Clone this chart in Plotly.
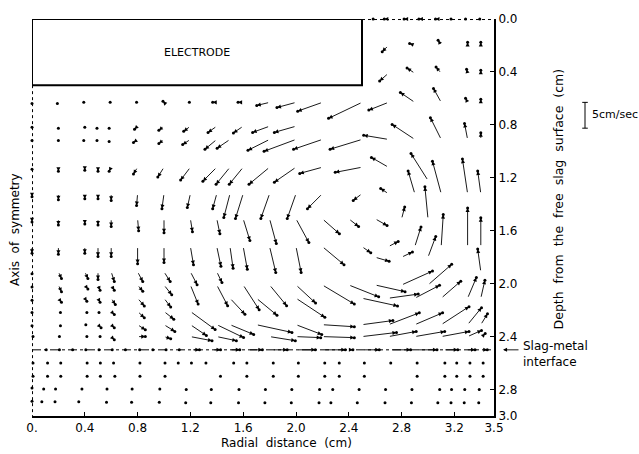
import plotly.graph_objects as go

# ---------------- data (velocities) ----------------
# depth of each row of grid points (cm), radial positions (cm),
# radial velocity U and axial (downward) velocity W (cm/s)
ROW_Z = [0.0, 0.2, 0.41, 0.63, 0.81, 0.91, 1.12, 1.22, 1.32, 1.51, 1.72, 1.80,
         1.91, 2.01, 2.11, 2.21, 2.31, 2.40, 2.50, 2.60, 2.70, 2.80, 2.90]

ROW_R = [
    [2.6, 2.7, 2.85, 2.97, 3.08, 3.19, 3.3, 3.4],
    [2.7, 2.9, 3.1, 3.3, 3.4],
    [2.7, 2.9, 3.1, 3.3, 3.4],
    [0, 0.2, 0.4, 0.6, 0.8, 1.0, 1.2, 1.4, 1.6, 1.8, 2.0, 2.2, 2.5, 2.7, 2.9, 3.1, 3.3, 3.4],
    [0, 0.2, 0.4, 0.5, 0.6, 0.8, 1.0, 1.2, 1.4, 1.6, 1.8, 2.0],
    [0, 0.2, 0.4, 0.5, 0.6, 0.8, 1.0, 1.2, 1.4, 1.5, 1.8, 2.0, 2.2, 2.5, 2.7, 2.9, 3.1, 3.3, 3.4],
    [0, 0.2, 0.4, 0.5, 0.6, 0.8, 1.0, 1.2, 1.4, 1.5, 1.6, 1.8, 2.0, 2.2, 2.5, 2.7],
    [3.0],
    [0, 0.2, 0.4, 0.5, 0.6, 0.8, 1.0, 1.2, 1.4, 1.5, 1.6, 1.8, 2.0, 2.2, 2.5, 2.7, 2.9, 3.1, 3.3, 3.4],
    [0, 0.2, 0.4, 0.5, 0.6, 0.8, 1.0, 1.2, 1.4, 1.6, 1.8, 2.0, 2.2, 2.4, 2.6, 2.8, 3.0],
    [0, 0.2, 0.4, 0.5, 0.6, 0.8, 1.0, 1.2, 1.4, 1.5, 1.6, 1.8, 2.0, 2.2, 2.5, 2.7, 2.9, 3.1, 3.3, 3.4],
    [2.6, 2.8, 3.0],
    [0, 0.2, 0.4, 0.5, 0.6, 0.8, 1.0, 1.2, 1.4, 3.4],
    [0, 0.2, 0.4, 0.5, 0.6, 0.8, 1.0, 1.2, 1.4, 1.6, 1.8, 2.0, 2.2, 2.4, 2.6, 2.8, 3.0],
    [0, 0.2, 0.4, 0.5, 0.6, 0.8, 1.0, 1.5, 1.7, 2.0, 2.5, 2.7, 2.9, 3.1, 3.3, 3.4],
    [0, 0.2, 0.4, 0.5, 0.6, 0.8, 1.0, 1.2],
    [0, 0.2, 0.4, 0.5, 0.6, 0.8, 1.0, 1.2, 1.4, 1.5, 1.7, 2.0, 2.2, 2.5, 2.7, 2.9, 3.1, 3.3, 3.4],
    [0, 0.2, 0.4, 0.5, 0.6, 0.8, 1.0, 1.2, 1.4, 1.8, 2.0, 2.2, 2.5, 2.7, 2.9, 3.1, 3.3, 3.41],
    [0.1, 0.2, 0.3, 0.4, 0.5, 0.6, 0.7, 0.8, 0.9, 1.0, 1.1, 1.21, 1.37, 1.5, 1.64, 1.82,
     2.01, 2.21, 2.4, 2.51, 2.72, 2.92, 3.12, 3.29, 3.41],
    [0, 0.11, 0.21, 0.41, 0.51, 0.61, 0.81, 1.0, 1.1, 1.2, 1.31, 1.52, 1.62, 1.82, 2.01,
     2.21, 2.32, 2.51, 2.71, 2.91, 3.12, 3.21, 3.31, 3.41],
    [0, 0.11, 0.21, 0.41, 0.51, 0.62, 0.81, 1.0, 1.42, 1.62, 1.82, 2.01, 2.21, 2.32, 2.51,
     2.91, 3.12, 3.21, 3.31, 3.41],
    [0, 0.1, 0.19, 0.39, 0.58, 0.77, 0.98, 1.18, 1.37, 1.58, 1.78, 1.98, 2.19, 2.29, 2.49,
     2.69, 2.89, 3.1, 3.19, 3.29, 3.4],
    [0, 0.09, 0.19, 0.37, 0.58, 0.77, 0.98, 1.18, 1.37, 1.58, 1.78, 1.98, 2.19, 2.28, 2.48,
     2.69, 2.89, 3.09, 3.19, 3.29, 3.4],
]

ROW_U = [
    [-0.4, -0.8, -0.8, -1.0, -0.6, -0.4, -0.4, -0.2],
    [-1.2, -1.0, -0.6, 0.0, 0.0],
    [-1.7, -1.5, -1.0, -0.2, 0.0],
    [0, -0.2, -0.2, -0.2, -0.2, -0.2, -0.2, -0.8, -1.0, -2.5, -3.7, -4.8, -6.5, -3.8, -2.8, -1.5, -0.4, 0],
    [0, 0, 0, -0.2, -0.4, -0.6, -1.0, -1.3, -1.7, -1.9, -3.3, -4.2],
    [0, 0, -0.2, -0.2, -0.4, -0.8, -1.0, -1.5, -2.3, -2.5, -4.2, -6.2, -5.6, -6.2, -4.8, -4.4, -2.1, -0.6, 0],
    [0, 0, 0, 0, -0.4, -0.8, -1.2, -1.9, -2.7, -2.7, -2.7, -4.0, -4.2, -4.4, -5.2, -3.3],
    [-3.3],
    [0, 0, 0, 0, 0, -0.2, -0.4, -0.6, -0.8, -1.2, -1.5, -1.7, -1.7, -2.9, -1.7, -1.5, -1.3, -1.7, -1.0, -0.6],
    [0, 0, 0, 0, 0, 0.2, 0, 0.4, 0.6, 1.3, 1.3, 2.5, 3.3, 1.9, 2.3, 0.6, -0.6],
    [0, 0, 0, 0, 0, 0, 0, 0.6, 0.8, 0.6, 0.8, 1.2, 1.0, 4.2, 1.7, 1.9, 1.2, 0.4, 0, 0],
    [2.7, 2.1, 1.5],
    [0, 0.6, 0.6, 0, 0.6, 1.0, 1.2, 1.3, 1.0, -0.6],
    [0, 0.6, 0.6, 0.4, 0.6, 1.0, 1.5, 1.5, 2.1, 3.1, 3.3, 3.8, 6.2, 5.8, 5.8, 6.0, 4.6],
    [0, 0.6, 0.4, 0.4, 0.8, 1.3, 1.3, 2.9, 4.0, 5.6, 6.9, 5.8, 4.8, 3.8, 1.7, 0.8],
    [0, 0.4, 0.4, 0.2, 0.6, 1.3, 1.9, 4.8],
    [0, 0.4, 0.2, 0.6, 0.6, 1.5, 2.1, 3.1, 5.2, 4.6, 6.9, 5.0, 6.2, 6.0, 6.0, 5.4, 5.4, 2.7, 1.3],
    [0.2, 0.2, 0.4, 0.4, 0.6, 1.5, 1.3, 4.2, 3.8, 5.0, 4.8, 6.2, 6.7, 5.4, 5.8, 5.4, 2.7, 0.6],
    [0.2, 0.2, 0.2, 0.2, 0.2, 0.2, 0.2, 0.4, 0.4, 0.4, 0.4, 1.5, 1.5, 1.9, 2.7, 2.9,
     3.5, 4.2, 0.8, 3.1, 3.8, 3.8, 2.7, 1.7, 1.0],
    [0.2, 0.2, 0.2, 0.2, 0.2, 0.2, 0.2, 0.2, 0.2, 0.2, 0.2, 0.2, 0.2, 0.2, 0.2,
     0.2, 0.2, 0.2, 0.2, 0.2, 0.2, 0.2, 0.2, 0.2],
    [0.2, 0.2, 0.2, 0.2, 0.2, 0.2, 0.2, 0.2, 0.2, 0.2, 0.2, 0.2, 0.2, 0.2, 0.2,
     0.2, 0.2, 0.2, 0.2, 0.2],
    [0, -0.3, -0.3, -0.3, -0.3, -0.3, -0.3, -0.3, -0.3, -0.3, -0.3, -0.3, -0.3, -0.3, -0.3,
     -0.3, -0.3, -0.3, -0.3, -0.3, -0.3],
    [0, -0.4, -0.4, -0.4, -0.4, -0.4, -0.4, -0.4, -0.4, -0.4, -0.4, -0.4, -0.4, -0.4, -0.4,
     -0.4, -0.4, -0.4, -0.4, -0.4, -0.4],
]

ROW_W = [
    [0, 0, 0, 0, 0, 0, 0, 0],
    [1.2, -0.4, -1.0, -0.6, -0.6],
    [1.5, -1.0, -1.2, -0.8, -0.6],
    [0.2, 0.2, 0, 0, 0, -0.2, 0, 0, 0, 0.6, 1.0, 1.7, 3.1, 1.5, -1.9, -2.7, -0.8, -0.6],
    [0.2, 0.4, 0.2, 0.4, 0.4, 0.6, 0.8, 1.0, 1.2, 1.3, 1.2, 1.2],
    [0.2, 0.2, 0.2, 0.2, 0.4, 0.6, 0.8, 1.0, 1.9, 1.7, 2.1, 2.3, 1.9, 1.9, -0.8, -2.9, -4.2, -3.1, -1.3],
    [0.4, 0.8, 0.6, 0.8, 0.8, 1.3, 1.9, 2.5, 2.7, 3.3, 3.3, 3.3, 2.9, 1.2, 1.0, -1.9],
    [-5.2],
    [0.6, 1.2, 1.0, 1.0, 1.3, 2.3, 2.9, 2.7, 2.9, 4.6, 4.8, 4.8, 4.8, 2.9, 1.3, -1.0, -4.4, -6.3, -6.7, -4.4],
    [0.6, 1.2, 1.0, 1.2, 1.5, 2.3, 2.7, 2.5, 2.9, 4.2, 4.8, 4.6, 2.9, 1.5, 1.3, -2.3, -6.2],
    [1.3, 1.5, 1.3, 1.9, 1.9, 3.3, 3.1, 3.5, 3.8, 4.2, 4.4, 5.0, 5.0, 3.5, 1.2, -1.0, -3.8, -6.2, -7.5, -5.6],
    [0.8, -1.0, -4.0],
    [0.4, 1.3, 1.3, 1.5, 1.9, 1.9, 1.9, 2.5, 2.1, -4.4],
    [0.4, 1.3, 0.8, 1.0, 1.0, 1.2, 1.9, 3.7, 4.0, 4.8, 4.0, 3.5, 3.7, 2.3, 1.3, -2.7, -4.0],
    [0.4, 0.8, 0.6, 0.8, 1.2, 1.5, 1.7, 3.1, 3.3, 3.7, 1.5, -0.8, -2.5, -3.3, -4.0, -3.5],
    [0.2, 0.2, 0.2, 0.2, 0.6, 1.2, 1.5, 3.5],
    [0.2, 0.2, 0, 0.6, 0.6, 1.0, 1.3, 2.1, 2.5, 1.9, 1.5, 1.9, 0.4, -0.8, -2.3, -2.3, -3.5, -3.3, -2.1],
    [0, 0, 0, 0, 0.6, 0, 0.4, 0.8, 0.8, 0.8, 0.2, 0.2, -0.8, -1.0, -1.0, -1.0, -1.2, -0.6],
    [0, 0, 0, 0, 0, 0, 0, 0, 0, 0, 0, 0, 0, 0, 0, 0, 0, 0, 0, 0, 0, 0, 0, 0, 0],
    [0, 0, 0, 0, 0, 0, 0, 0, 0, 0, 0, 0, 0, 0, 0, 0, 0, 0, 0, 0, 0, 0, 0, 0],
    [0, 0, 0, 0, 0, 0, 0, 0, 0, 0, 0, 0, 0, 0, 0, 0, 0, 0, 0, 0],
    [-0.3, -0.1, -0.1, -0.1, -0.1, -0.1, -0.1, 0, 0, 0, 0, 0, 0, 0, 0,
     0, 0, 0, 0, 0, 0],
    [-0.3, -0.2, -0.2, -0.2, -0.1, -0.1, -0.1, 0, 0, 0, 0, 0, 0, 0, 0,
     0, 0, 0, 0, 0, 0],
]

X_TICKS = [0, 0.4, 0.8, 1.2, 1.6, 2.0, 2.4, 2.8, 3.2, 3.5]
X_TICKTEXT = ["0.", "0.4", "0.8", "1.2", "1.6", "2.0", "2.4", "2.8", "3.2", "3.5"]
Y_TICKS = [0, 0.4, 0.8, 1.2, 1.6, 2.0, 2.4, 2.8, 3.0]
Y_TICKTEXT = ["0.0", "0.4", "0.8", "1.2", "1.6", "2.0", "2.4", "2.8", "3.0"]

ELECTRODE_RADIUS = 2.5
ELECTRODE_DEPTH = 0.5
INTERFACE_DEPTH = 2.5
SCALE_SPEED = 5.0        # cm/sec shown by the scale bar
R_MAX, Z_MAX = 3.5, 3.0

# ---------------- figure ----------------
K = 0.039  # plot length (cm) per 1 cm/s
FONT = "DejaVu Sans"
BLACK = "black"

fig = go.Figure()

tip_r, tip_z = [], []
anns = []
for z, rs, us, ws in zip(ROW_Z, ROW_R, ROW_U, ROW_W):
    for r, u, w in zip(rs, us, ws):
        hx, hy = r + u * K, z + w * K
        tip_r.append(hx)
        tip_z.append(hy)
        anns.append(dict(x=hx, y=hy, ax=r, ay=z,
                         xref="x", yref="y", axref="x", ayref="y",
                         text="", showarrow=True, arrowhead=2, arrowsize=0.9,
                         arrowwidth=0.9, arrowcolor=BLACK, standoff=0, startstandoff=0))

# small dots so that very short vectors remain visible (as in the original)
fig.add_trace(go.Scatter(x=tip_r, y=tip_z, mode="markers",
                         marker=dict(size=3, color=BLACK), hoverinfo="skip",
                         showlegend=False, cliponaxis=False))

anns += [
    dict(x=ELECTRODE_RADIUS / 2, y=ELECTRODE_DEPTH / 2, xref="x", yref="y",
         text="ELECTRODE", showarrow=False, font=dict(family=FONT, size=11, color=BLACK)),
    dict(x=0.55, y=-0.067, xref="paper", yref="paper", text="Radial  distance  (cm)",
         xanchor="center", yanchor="middle",
         showarrow=False, font=dict(family=FONT, size=12, color=BLACK)),
    dict(x=1.1385, y=0.548, xref="paper", yref="paper",
         text="Depth  from  the  free  slag  surface  (cm)", textangle=-90,
         xanchor="center", yanchor="middle",
         showarrow=False, font=dict(family=FONT, size=12.5, color=BLACK)),
    dict(x=-0.037, y=0.471, xref="paper", yref="paper", text="Axis  of  symmetry",
         xanchor="center", yanchor="middle",
         textangle=-90, showarrow=False, font=dict(family=FONT, size=12, color=BLACK)),
    dict(x=1.208, y=0.759, xref="paper", yref="paper", text="5cm/sec",
         xanchor="left", yanchor="middle",
         showarrow=False, font=dict(family=FONT, size=11, color=BLACK)),
    dict(x=1.058, y=0.155, xref="paper", yref="paper", text="Slag-metal<br>interface",
         xanchor="left", yanchor="middle", align="left", showarrow=False,
         font=dict(family=FONT, size=12, color=BLACK)),
    dict(x=1.0195, y=INTERFACE_DEPTH, xref="paper", yref="y", text="", showarrow=True,
         ax=17, ay=0, arrowhead=2, arrowsize=0.9, arrowwidth=0.9, arrowcolor=BLACK),
]

# scale bar (paper coordinates derived from the depth range)
z0 = 0.63
z1 = z0 + SCALE_SPEED * K
py0 = 1 - z0 / Z_MAX
py1 = 1 - z1 / Z_MAX
bx = 1.197
cap = 0.006

shapes = [
    dict(type="rect", xref="x", yref="y", x0=0, x1=ELECTRODE_RADIUS, y0=0, y1=ELECTRODE_DEPTH,
         line=dict(color=BLACK, width=2)),
    dict(type="line", xref="x", yref="y", x0=0.004, x1=0.004, y0=ELECTRODE_DEPTH, y1=Z_MAX,
         line=dict(color=BLACK, width=1, dash="dot")),
    dict(type="line", xref="x", yref="y", x0=ELECTRODE_RADIUS, x1=R_MAX, y0=0.004, y1=0.004,
         line=dict(color=BLACK, width=1, dash="dot")),
    dict(type="line", xref="x", yref="y", x0=0, x1=R_MAX, y0=INTERFACE_DEPTH, y1=INTERFACE_DEPTH,
         line=dict(color=BLACK, width=1, dash="dashdot")),
    dict(type="line", xref="paper", yref="paper", x0=bx, x1=bx, y0=py0, y1=py1,
         line=dict(color=BLACK, width=1)),
    dict(type="line", xref="paper", yref="paper", x0=bx - cap, x1=bx + cap, y0=py0, y1=py0,
         line=dict(color=BLACK, width=1)),
    dict(type="line", xref="paper", yref="paper", x0=bx - cap, x1=bx + cap, y0=py1, y1=py1,
         line=dict(color=BLACK, width=1)),
]

fig.update_layout(
    width=639, height=454,
    margin=dict(l=32, r=145, t=13, b=38),
    paper_bgcolor="white", plot_bgcolor="white",
    showlegend=False,
    annotations=anns,
    shapes=shapes,
    font=dict(family=FONT, size=12, color=BLACK),
    xaxis=dict(range=[0, R_MAX], tickvals=X_TICKS, ticktext=X_TICKTEXT,
               ticks="inside", ticklen=4, tickwidth=1, tickcolor=BLACK,
               showline=True, linewidth=2, linecolor=BLACK, mirror=False,
               showgrid=False, zeroline=False, tickfont=dict(family=FONT, size=12)),
    yaxis=dict(range=[Z_MAX, 0], side="right", tickvals=Y_TICKS, ticktext=Y_TICKTEXT,
               ticks="inside", ticklen=4, tickwidth=1, tickcolor=BLACK,
               showline=True, linewidth=2, linecolor=BLACK, mirror=False,
               showgrid=False, zeroline=False, tickfont=dict(family=FONT, size=12)),
)

fig.write_html("out.html")
